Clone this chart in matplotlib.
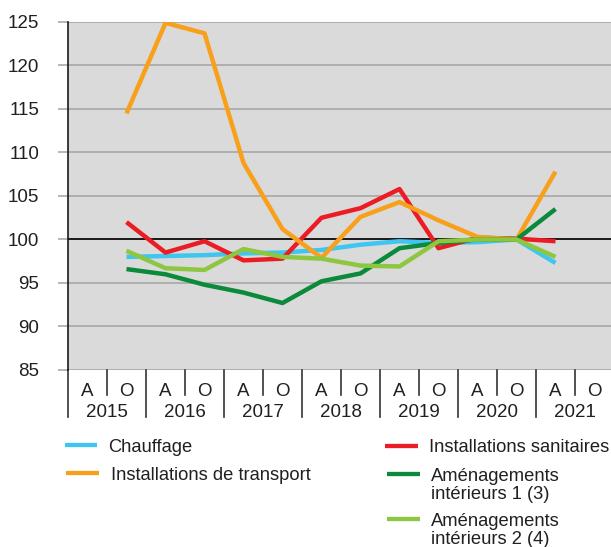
import matplotlib.pyplot as plt
import matplotlib.transforms as mtransforms
from matplotlib.lines import Line2D

plt.rcParams['font.family'] = ['Liberation Sans', 'DejaVu Sans']

years = ['2015', '2016', '2017', '2018', '2019', '2020', '2021']
halves = ['A', 'O'] * len(years)

# first value is 2015 O, last is 2021 A
chauffage = [98.0, 98.1, 98.2, 98.4, 98.5, 98.8, 99.4, 99.8, 99.6, 99.7, 100.0, 97.3]
transport = [114.5, 124.9, 123.7, 108.8, 101.2, 97.9, 102.6, 104.3, 102.2, 100.3, 100.0, 107.8]
sanitaires = [102.0, 98.5, 99.8, 97.6, 97.8, 102.5, 103.6, 105.8, 99.0, 100.2, 100.1, 99.8]
amenag1 = [96.6, 96.0, 94.8, 93.9, 92.7, 95.2, 96.1, 99.0, 99.6, 100.0, 100.0, 103.5]
amenag2 = [98.7, 96.7, 96.5, 98.9, 98.0, 97.8, 97.0, 96.9, 99.8, 100.0, 100.0, 98.0]

labels = ['Chauffage', 'Installations de transport', 'Installations sanitaires',
          'Aménagements\nintérieurs 1 (3)', 'Aménagements\nintérieurs 2 (4)']
colors = ['#3ec6f0', '#f8a01c', '#ec1c24', '#0b8a3b', '#8dc63f']

x = list(range(1, 13))
W, H = 611, 547
txt = '#231f20'

fig = plt.figure(figsize=(W / 100, H / 100), dpi=100)
ax = fig.add_axes([68 / W, 1 - 370 / H, 1 - 68 / W, 348 / H])
ax.set_facecolor('#dadada')

ax.set_ylim(85, 125)
ax.set_xlim(-0.5, -0.5 + 543 / 39)
ax.set_yticks(range(85, 126, 5))
ax.grid(axis='y', color='#a3a3a3', linewidth=1.1)
ax.set_axisbelow(True)
ax.axhline(100, color='#1a1a1a', linewidth=1.4, zorder=2)

for s, c in zip([chauffage, sanitaires, transport, amenag1, amenag2],
                [colors[0], colors[2], colors[1], colors[3], colors[4]]):
    ax.plot(x, s, color=c, lw=3.2, zorder=3, solid_capstyle='butt')

for s in ['top', 'right', 'bottom']:
    ax.spines[s].set_visible(False)
ax.spines['left'].set_color('#1a1a1a')
ax.spines['left'].set_linewidth(1.2)
ax.tick_params(axis='y', length=7.2, color='#a3a3a3', width=1.1,
               labelsize=13.5, labelcolor=txt, pad=13.5)

# category axis below the plot
ax.set_xticks(range(len(halves)))
ax.set_xticklabels(halves)
ax.tick_params(axis='x', length=0, labelsize=13.5, labelcolor=txt, pad=9)

trans = mtransforms.blended_transform_factory(ax.transData, ax.transAxes)
for i in range(len(halves) + 1):
    b = i - 0.5
    low = -0.135 if i % 2 == 0 else -0.072
    ax.plot([b, b], [0, low], transform=trans, color='#333333', lw=1.2, clip_on=False)
for i, yr in enumerate(years):
    ax.text(2 * i + 0.5, -0.123, yr, transform=trans, ha='center', va='center',
            fontsize=13.5, color=txt)

# legend drawn by hand: (line x0, line x1, line y, text x, last baseline y) in pixels
legend_pos = [(65, 97, 445, 108, 452), (66, 99, 473, 111, 480),
              (385, 418, 446, 429, 452), (387, 420, 474, 431, 499),
              (387, 420, 519, 431, 544)]
for lab, c, (x0, x1, ly, tx, ty) in zip(labels, colors, legend_pos):
    fig.add_artist(Line2D([x0 / W, x1 / W], [1 - ly / H, 1 - ly / H],
                          transform=fig.transFigure, color=c, lw=3.1,
                          solid_capstyle='butt'))
    fig.text(tx / W, 1 - ty / H, lab, fontsize=13.2, color=txt,
             ha='left', va='baseline', linespacing=1.1)

fig.savefig('out.png', dpi=100)
